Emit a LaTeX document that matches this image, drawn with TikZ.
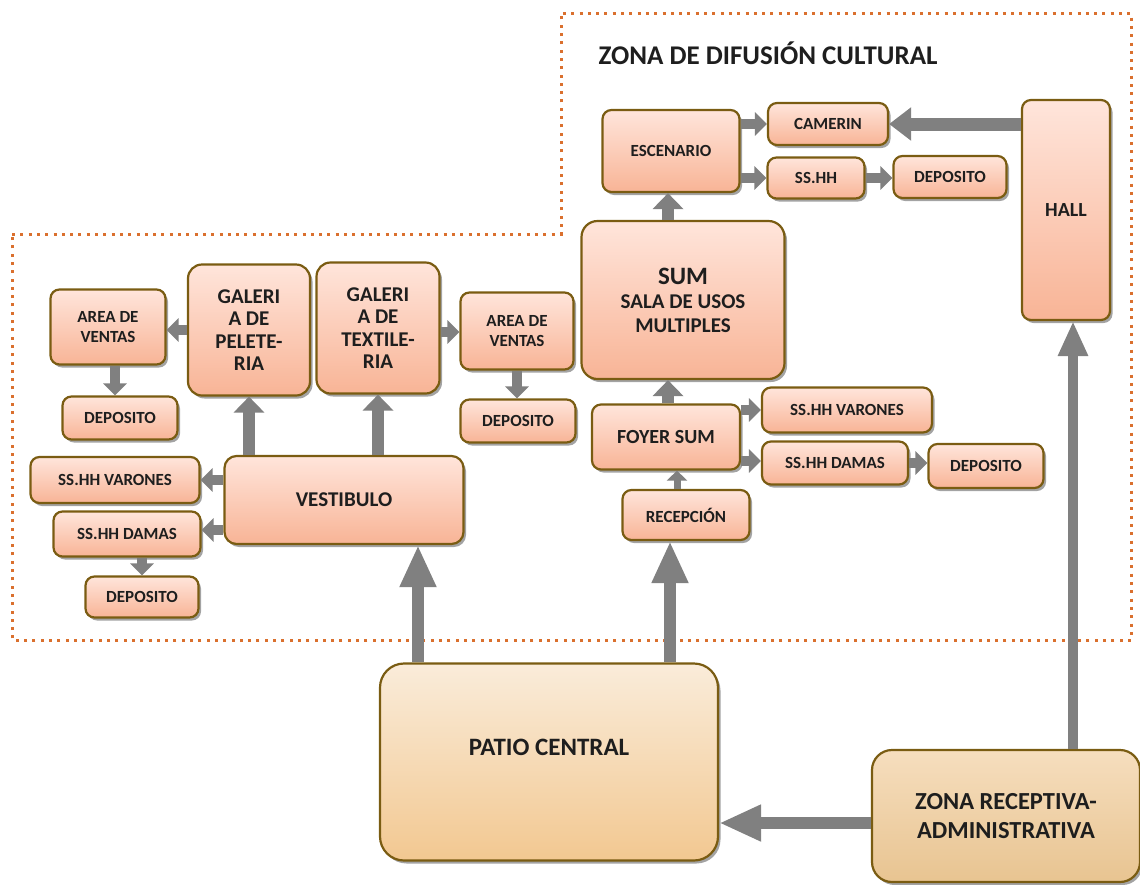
\documentclass[tikz,border=0pt]{standalone}
\usepackage{fontspec}
\setmainfont{Carlito}
\usetikzlibrary{arrows.meta,shadows}
\definecolor{brd}{RGB}{122,92,18}
\definecolor{ptop}{RGB}{255,229,219}
\definecolor{pbot}{RGB}{248,180,150}
\definecolor{ctop}{RGB}{250,236,218}
\definecolor{cbot}{RGB}{242,200,145}
\definecolor{ztop}{RGB}{246,222,190}
\definecolor{zbot}{RGB}{232,196,145}
\definecolor{agray}{RGB}{128,128,128}
\definecolor{dotc}{RGB}{218,112,46}
\definecolor{txt}{RGB}{30,30,30}
\tikzset{
  box/.style={draw=brd, line width=2.2pt, rounded corners=9pt, top color=ptop, bottom color=pbot,
    drop shadow={shadow xshift=2.5pt, shadow yshift=-3pt, opacity=0.45, fill=black!80},
    align=center, inner sep=0pt, text=txt, font=\bfseries\fontsize{17}{20}\selectfont},
  bigfont/.style={font=\bfseries\fontsize{21}{22.5}\selectfont},
  cbox/.style={box, top color=ctop, bottom color=cbot},
  zbox/.style={box, top color=ztop, bottom color=zbot},
  arr/.style={draw=agray, line width=10pt, -{Triangle[width=23pt,length=12pt]}},
  marr/.style={draw=agray, line width=12pt, -{Triangle[width=30pt,length=16pt]}},
  harr/.style={draw=agray, line width=13pt, -{Triangle[width=32pt,length=22pt]}},
  bigarr/.style={draw=agray, line width=12pt, -{Triangle[width=34pt,length=42pt]}},
  zarr/.style={draw=agray, line width=10.5pt, -{Triangle[width=28pt,length=35pt]}},
  frame/.style={draw=dotc, line width=3pt, dash pattern=on 3pt off 5.3pt}
}
\begin{document}
\begin{tikzpicture}[x=1pt,y=-1pt]
\useasboundingbox (0,0) rectangle (1140,884);
% dotted zone frame
\draw[frame] (12,234) -- (561,234) -- (561,13) -- (1131,13) -- (1131,640) -- (12,640) -- cycle;
\node[anchor=west, font=\bfseries\fontsize{27}{30}\selectfont, text=txt] (title) at (595,53) {ZONA DE DIFUSIÓN CULTURAL};

% right cluster
\node[box, minimum width=137pt, minimum height=82pt] (esc) at (671,151) {ESCENARIO};
\node[box, minimum width=120pt, minimum height=42pt] (cam) at (828,124) {CAMERIN};
\node[box, minimum width=97pt, minimum height=41pt] (ssh) at (816,178) {SS.HH};
\node[box, minimum width=113pt, minimum height=42pt] (dep5) at (950,177) {DEPOSITO};
\node[box, font=\bfseries\fontsize{20}{22}\selectfont, minimum width=88pt, minimum height=220pt] (hall) at (1066,210) {HALL};
\node[box, minimum width=203pt, minimum height=158pt, rounded corners=16pt, font=\bfseries\fontsize{21}{24}\selectfont] (sum) at (683,300) {{\fontsize{25}{28}\selectfont SUM}\\SALA DE USOS\\MULTIPLES};
\node[box, font=\bfseries\fontsize{20}{22}\selectfont, minimum width=148pt, minimum height=65pt] (foyer) at (666,437) {FOYER SUM};
\node[box, minimum width=170pt, minimum height=45pt] (ssv2) at (847,410) {SS.HH VARONES};
\node[box, minimum width=146pt, minimum height=43pt] (ssd2) at (835,463) {SS.HH DAMAS};
\node[box, minimum width=115pt, minimum height=44pt] (dep4) at (986,466) {DEPOSITO};
\node[box, minimum width=127pt, minimum height=50pt] (rec) at (686,515) {RECEPCIÓN};

% left cluster
\node[box, bigfont, minimum width=122pt, minimum height=131pt, rounded corners=14pt] (gp) at (249,330) {GALERI\\A DE\\PELETE-\\RIA};
\node[box, bigfont, minimum width=123pt, minimum height=131pt, rounded corners=14pt] (gt) at (378,328) {GALERI\\A DE\\TEXTILE-\\RIA};
\node[box, minimum width=115pt, minimum height=75pt] (av1) at (108,327) {AREA DE\\VENTAS};
\node[box, minimum width=115pt, minimum height=43pt] (dep1) at (120,418) {DEPOSITO};
\node[box, minimum width=113pt, minimum height=77pt] (av2) at (517,331) {AREA DE\\VENTAS};
\node[box, minimum width=115pt, minimum height=43pt] (dep2) at (518,421) {DEPOSITO};
\node[box, minimum width=169pt, minimum height=46pt] (ssv1) at (115,480) {SS.HH VARONES};
\node[box, minimum width=147pt, minimum height=45pt] (ssd1) at (127,534) {SS.HH DAMAS};
\node[box, minimum width=113pt, minimum height=41pt] (dep3) at (142,597) {DEPOSITO};
\node[box, font=\bfseries\fontsize{21}{24}\selectfont, minimum width=239pt, minimum height=88pt, rounded corners=12pt] (vest) at (344,500) {VESTIBULO};

% bottom
\node[cbox, minimum width=338pt, minimum height=197pt, rounded corners=24pt, text depth=30pt, font=\bfseries\fontsize{25}{28}\selectfont] (patio) at (549,762) {PATIO CENTRAL};
\node[zbox, minimum width=268pt, minimum height=132pt, rounded corners=20pt, font=\bfseries\fontsize{24.5}{29}\selectfont] (zona) at (1006,816) {ZONA RECEPTIVA-\\ADMINISTRATIVA};

% connectors
\draw[arr] (gp.west) -- (gp.west -| av1.east);
\draw[arr] ([xshift=7pt]av1.south) -- ([xshift=7pt]av1.south |- dep1.north);
\draw[arr] ([yshift=-4pt]gt.east) -- ([yshift=-4pt]gt.east -| av2.west);
\draw[arr] (av2.south) -- (av2.south |- dep2.north);
\draw[marr] (vest.north -| gp.south) -- (gp.south);
\draw[marr] (vest.north -| gt.south) -- (gt.south);
\draw[arr] (vest.west |- ssv1.east) -- (ssv1.east);
\draw[arr] ([yshift=4pt]vest.west |- ssd1.east) -- ([yshift=4pt]ssd1.east);
\draw[arr] (ssd1.south -| dep3.north) -- (dep3.north);
\draw[bigarr] ([xshift=-131pt]patio.north) -- ([xshift=74pt]vest.south);
\draw[bigarr] ([xshift=121pt]patio.north) -- ([xshift=-16pt]rec.south);
\draw[draw=agray, line width=7pt, -{Triangle[width=20pt,length=10pt]}] ([xshift=-9pt]rec.north) -- ([xshift=-9pt]rec.north |- foyer.south);
\draw[marr] ([xshift=2pt]foyer.north) -- ([xshift=2pt]foyer.north |- sum.south);
\draw[arr] (foyer.east |- ssv2.west) -- (ssv2.west);
\draw[arr] ([yshift=2pt]foyer.east |- ssd2.west) -- ([yshift=2pt]ssd2.west);
\draw[arr] (ssd2.east) -- (ssd2.east -| dep4.west);
\draw[marr] ([xshift=-3pt]esc.south |- sum.north) -- ([xshift=-3pt]esc.south);
\draw[arr] (esc.east |- cam.west) -- (cam.west);
\draw[arr] (esc.east |- ssh.west) -- (ssh.west);
\draw[arr] (ssh.east) -- (ssh.east -| dep5.west);
\draw[harr] (hall.west |- cam.east) -- (cam.east);
\draw[zarr] ([xshift=7pt]hall.south |- zona.north) -- ([xshift=7pt]hall.south);
\draw[bigarr] ([yshift=-7pt]zona.west) -- ([yshift=-7pt]zona.west -| patio.east);
\end{tikzpicture}
\end{document}
